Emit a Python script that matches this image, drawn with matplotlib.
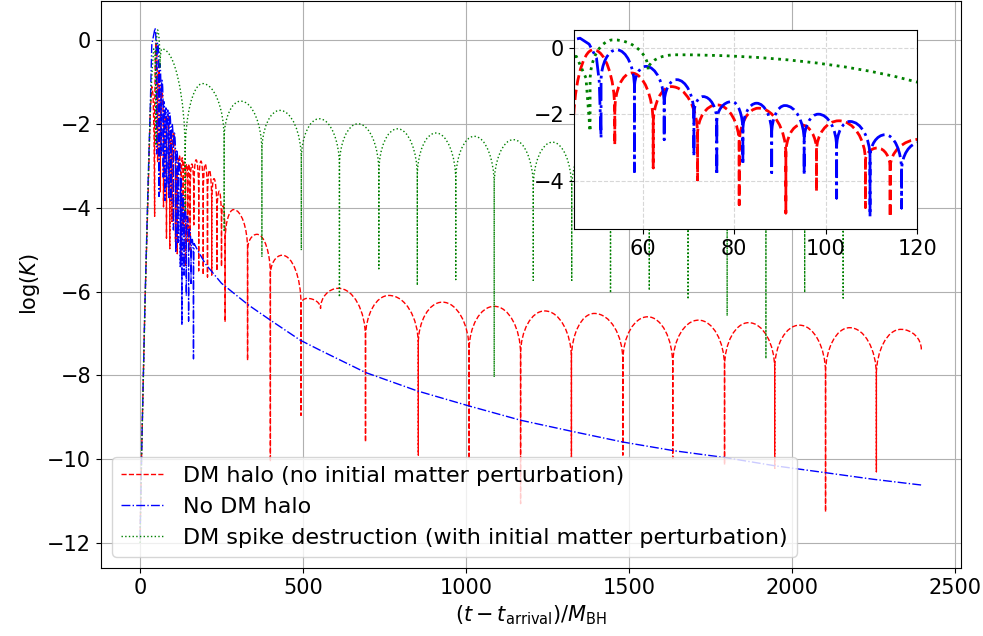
import matplotlib
matplotlib.use("Agg")
import matplotlib.pyplot as plt
from matplotlib.path import Path
from matplotlib.patches import PathPatch
from matplotlib.lines import Line2D

# ---- DM halo (no initial matter perturbation), red ----
red_lead_t = [0, 5, 15, 25, 31, 36, 40, 43]
red_lead_y = [-11.9, -9.8, -6.3, -3.6, -1.8, -1.1, -1.3, -2.3]
red_dip_t = [44.8, 53.9, 62.3, 72.0, 81.1, 91.3, 98.0, 108.7, 114.1, 126, 132.5, 139.5,
             146.5, 153.5, 165, 180, 194, 207, 220, 236, 250, 261, 330, 400, 494, 554,
             692, 854, 1010, 1168, 1324, 1482, 1635, 1794, 1948, 2104, 2260]
red_dip_y = [-4.2, -2.91, -3.61, -3.97, -4.72, -4.97, -4.32, -4.8, -5.09, -5.2, -4.6, -5.4,
             -4.8, -5.0, -4.4, -5.5, -5.6, -5.65, -5.6, -5.5, -5.4, -6.72, -7.64, -10.06, -8.95, -6.40,
             -9.59, -9.9, -10.0, -11.06, -9.95, -9.9, -9.98, -10.14, -10.22, -11.26, -10.3]
red_cusp_y = [-2.6, -1.9, -2.3, -2.6, -2.9, -3.2, -3.1, -3.4, -3.6, -3.7, -3.6, -3.8,
              -3.8, -3.8, -3.7, -3.7, -3.8, -3.9, -4.0, -4.2, -4.4, -4.8, -5.0, -5.6, -6.3, -6.40,
              -7.1, -7.25, -7.4, -7.5, -7.6, -7.65, -7.75, -7.8, -7.85, -7.95, -8.0]
red_peak_t = [49.2, 57.6, 66.3, 76.2, 85.3, 94.6, 102.9, 111.3, 120.5, 129.5, 136, 143,
              150, 159, 172, 187, 200, 213, 227, 243, 255, 287, 359, 436, 513, 609,
              764, 928, 1087, 1242, 1394, 1558, 1714, 1868, 2024, 2178, 2335]
red_peak_y = [-0.05, -0.75, -1.16, -1.71, -1.81, -2.31, -2.19, -3.01, -2.75, -2.8, -2.9, -2.95,
              -2.95, -2.95, -2.85, -2.88, -2.95, -3.1, -3.3, -3.6, -3.95, -4.04, -4.63, -5.13, -6.16, -5.92,
              -6.09, -6.25, -6.35, -6.46, -6.52, -6.6, -6.68, -6.74, -6.8, -6.86, -6.9]
red_tail_t = [2398]
red_tail_y = [-7.38]

# ---- No DM halo, blue ----
blue_lead_t = [0, 5, 15, 25, 31, 36, 41, 44, 46.3, 48.3, 49.9, 50.5]
blue_lead_y = [-11.9, -9.8, -6.3, -3.3, -1.7, -0.1, 0.1, 0.22, 0.30, 0.12, -0.3, -1.0]
blue_dip_t = [50.9, 58.2, 64.7, 71.2, 76.2, 81.9, 88.2, 95.3, 102.4, 109.7, 116.6,
              123.5, 128.5, 135, 142, 149, 156.5, 164]
blue_dip_y = [-2.71, -3.72, -2.76, -3.26, -3.82, -3.51, -3.75, -3.82, -4.52, -5.07, -4.82,
              -5.4, -6.8, -5.6, -6.1, -6.7, -5.8, -7.6]
blue_cusp_y = [-1.0, -1.2, -1.7, -2.0, -2.2, -2.5, -2.6, -2.8, -3.0, -3.3, -3.7,
               -3.9, -4.3, -4.6, -4.9, -5.1, -5.3, -5.5]
blue_peak_t = [54.3, 60.7, 67.4, 73.2, 79.5, 84.9, 91.1, 98.4, 105.3, 113, 120.5,
               126, 131.5, 138.5, 145.5, 152.5, 160]
blue_peak_y = [-0.05, -0.55, -0.95, -1.46, -1.61, -1.66, -1.73, -1.99, -2.21, -2.61, -2.85,
               -3.3, -3.7, -4.0, -4.2, -4.5, -4.75]
blue_tail_t = [166, 174, 200, 250, 333, 400, 492, 553, 692, 851, 1010, 1168, 1322,
               1481, 1640, 1794, 1950, 2101, 2250, 2400]
blue_tail_y = [-4.85, -4.97, -5.33, -5.8, -6.32, -6.68, -7.16, -7.40, -7.93, -8.37, -8.73, -9.07, -9.33,
               -9.59, -9.8, -9.96, -10.16, -10.32, -10.48, -10.62]

# ---- DM spike destruction (with initial matter perturbation), green ----
green_lead_t = [0, 5, 15, 25, 32, 38, 42, 45.5, 47.6]
green_lead_y = [-12.0, -9.8, -6.4, -3.4, -1.5, -0.6, -0.2, -0.25, -0.9]
green_dip_t = [48.5, 61.2, 138.5, 258, 374, 495, 612, 733, 851, 969, 1087, 1207,
               1325, 1444, 1563, 1682, 1802, 1921, 2040, 2158]
green_dip_y = [-2.51, -0.65, -4.06, -4.53, -5.17, -5.01, -6.13, -5.45, -5.85, -5.71, -8.04, -5.73,
               -5.73, -6.03, -5.97, -6.18, -6.58, -7.6, -6.02, -6.15]
green_cusp_y = [-1.0, -0.65, -2.7, -2.35, -2.65, -2.85, -3.0, -3.15, -3.25, -3.35, -3.45, -3.5,
                -3.55, -3.6, -3.65, -3.7, -3.75, -3.8, -3.8, -3.85]
green_peak_t = [53.6, 67.1, 192, 309, 429, 550, 669, 790, 908, 1026, 1146, 1266,
                1384, 1503, 1622, 1741, 1861, 1980, 2099, 2215]
green_peak_y = [0.25, -0.2, -1.03, -1.45, -1.67, -1.87, -1.99, -2.11, -2.21, -2.29, -2.37, -2.43,
                -2.48, -2.53, -2.57, -2.61, -2.65, -2.68, -2.71, -2.74]
green_tail_t = [2270]
green_tail_y = [-3.4]

labels = ["DM halo (no initial matter perturbation)",
          "No DM halo",
          "DM spike destruction (with initial matter perturbation)"]

K = 0.55  # bezier handle for the rounded lobes


def trace(lead_t, lead_y, dip_t, dip_y, cusp_y, peak_t, peak_y, tail_t, tail_y):
    verts = [(lead_t[0], lead_y[0])]
    codes = [Path.MOVETO]
    for x, y in zip(lead_t[1:], lead_y[1:]):
        verts.append((x, y))
        codes.append(Path.LINETO)
    for i in range(len(dip_t)):
        d, c = dip_t[i], cusp_y[i]
        verts += [(d, dip_y[i]), (d, c)]
        codes += [Path.LINETO] * 2
        if i >= len(peak_t):
            break
        if i + 1 < len(dip_t):
            x1, y1 = dip_t[i + 1], cusp_y[i + 1]
        else:
            x1, y1 = tail_t[0], tail_y[0]
        xp, yp = peak_t[i], peak_y[i]
        verts += [(d, c + K * (yp - c)), (xp - K * (xp - d), yp), (xp, yp),
                  (xp + K * (x1 - xp), yp), (x1, y1 + K * (yp - y1)), (x1, y1)]
        codes += [Path.CURVE4] * 6
    for x, y in zip(tail_t, tail_y):
        verts.append((x, y))
        codes.append(Path.LINETO)
    return Path(verts, codes)


series = [
    (trace(red_lead_t, red_lead_y, red_dip_t, red_dip_y, red_cusp_y,
           red_peak_t, red_peak_y, red_tail_t, red_tail_y), "r", "--"),
    (trace(blue_lead_t, blue_lead_y, blue_dip_t, blue_dip_y, blue_cusp_y,
           blue_peak_t, blue_peak_y, blue_tail_t, blue_tail_y), "b", "-."),
    (trace(green_lead_t, green_lead_y, green_dip_t, green_dip_y, green_cusp_y,
           green_peak_t, green_peak_y, green_tail_t, green_tail_y), "g", ":"),
]

plt.rcParams["font.size"] = 15
fig = plt.figure(figsize=(9.83, 6.36), dpi=100)
ax = fig.add_axes([0.1027, 0.1069, 0.875, 0.892])
axin = fig.add_axes([0.584, 0.640, 0.349, 0.313])

for a, lw in ((ax, 1.0), (axin, 2.0)):
    for path, color, ls in series:
        a.add_patch(PathPatch(path, fill=False, edgecolor=color, linestyle=ls,
                              lw=lw, joinstyle="round", zorder=2))

ax.set_xlim(-120, 2520)
ax.set_ylim(-12.6, 0.95)
ax.set_xticks([0, 500, 1000, 1500, 2000, 2500])
ax.set_yticks([0, -2, -4, -6, -8, -10, -12])
ax.grid(True)
ax.set_xlabel(r"$(t-t_{\rm arrival})/M_{\rm BH}$")
ax.set_ylabel(r"$\log(K)$")

handles = [Line2D([], [], color=c, ls=ls, lw=1.0) for _, c, ls in series]
ax.legend(handles, labels, loc="lower left", fontsize=16)

axin.set_xlim(45, 120)
axin.set_ylim(-5.45, 0.55)
axin.set_xticks([60, 80, 100, 120])
axin.set_yticks([0, -2, -4])
axin.grid(True, linestyle="--", alpha=0.5)

fig.savefig("out.png", dpi=100)
